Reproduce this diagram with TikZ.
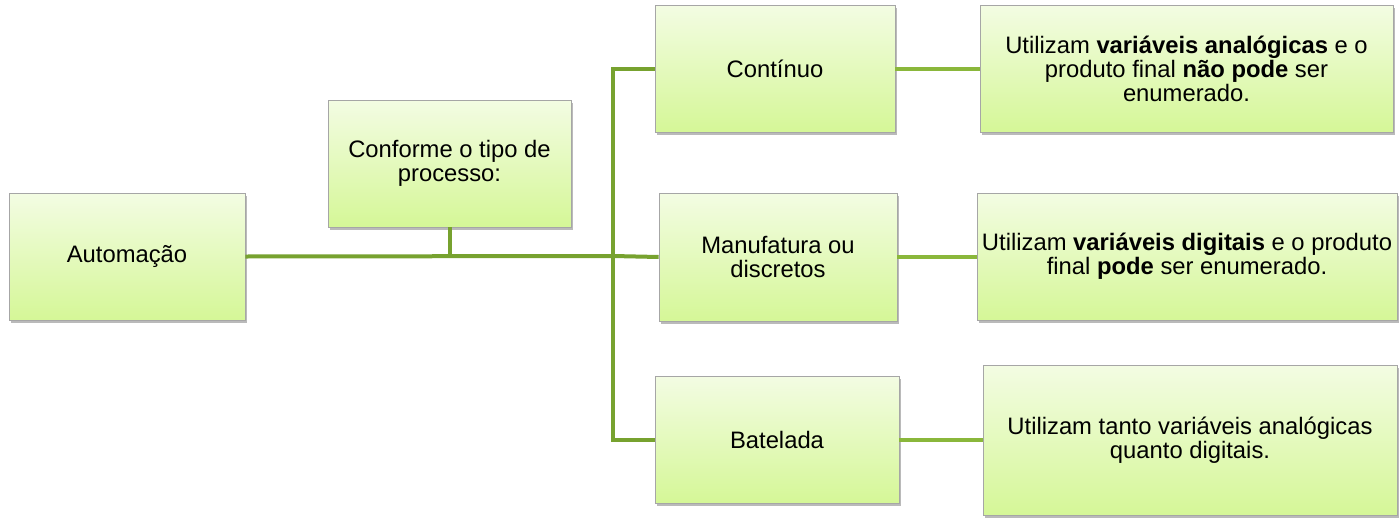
\documentclass[tikz,border=0pt]{standalone}
\usepackage{fontspec}
\setmainfont{Liberation Sans}
\usetikzlibrary{shadows}
\definecolor{trunkgreen}{HTML}{77A22F}
\definecolor{linkgreen}{HTML}{8AB73B}
\definecolor{boxtop}{HTML}{F3FCE3}
\definecolor{boxbot}{HTML}{D5F797}
\definecolor{boxline}{HTML}{A6A6A6}
\begin{document}
\begin{tikzpicture}[x=1pt,y=-1pt,
  box/.style={rectangle, draw=boxline, line width=0.6pt, top color=boxtop, bottom color=boxbot,
    inner sep=0pt, align=center, font=\fontsize{23.8}{24}\selectfont,
    drop shadow={opacity=0.45, shadow xshift=2pt, shadow yshift=-2.5pt, fill=black!60}},
  trunk/.style={draw=trunkgreen, line width=4pt},
  link/.style={draw=linkgreen, line width=4pt}]
\useasboundingbox (0,0) rectangle (1399,530);
\node[box, minimum width=236pt, minimum height=127pt] (auto) at (127,256.5) {Automação};
\node[box, minimum width=243pt, minimum height=127pt] (conf) at (449.5,163.5) {Conforme o tipo de\\processo:};
\node[box, minimum width=240pt, minimum height=127pt] (cont) at (775,68.5) {Contínuo};
\node[box, minimum width=238pt, minimum height=128pt] (manu) at (778,257) {Manufatura ou\\discretos};
\node[box, minimum width=244pt, minimum height=127pt] (bat) at (777,439.5) {Batelada};
\node[box, minimum width=413pt, minimum height=127pt] (r1) at (1186.5,68.5) {Utilizam \textbf{variáveis analógicas} e o\\produto final \textbf{não pode} ser\\enumerado.};
\node[box, minimum width=420pt, minimum height=127pt] (r2) at (1187,256.5) {Utilizam \textbf{variáveis digitais} e o produto\\final \textbf{pode} ser enumerado.};
\node[box, minimum width=414pt, minimum height=150pt] (r3) at (1190,440) {Utilizam tanto variáveis analógicas\\quanto digitais.};
\coordinate (j) at (613,256);
\coordinate (ttop) at (613,68.5);
\coordinate (tbot) at (613,439.5);
\draw[trunk] (auto.east) -- (j);
\draw[trunk] (conf.south) -- (conf.south |- j);
\draw[trunk, line join=miter] (cont.west) -- (ttop) -- (tbot) -- (bat.west);
\draw[trunk] (j) -- (manu.west);
\draw[link] (cont.east) -- (r1.west |- cont.east);
\draw[link] (manu.east) -- (r2.west |- manu.east);
\draw[link] (bat.east) -- (r3.west |- bat.east);
\end{tikzpicture}
\end{document}
